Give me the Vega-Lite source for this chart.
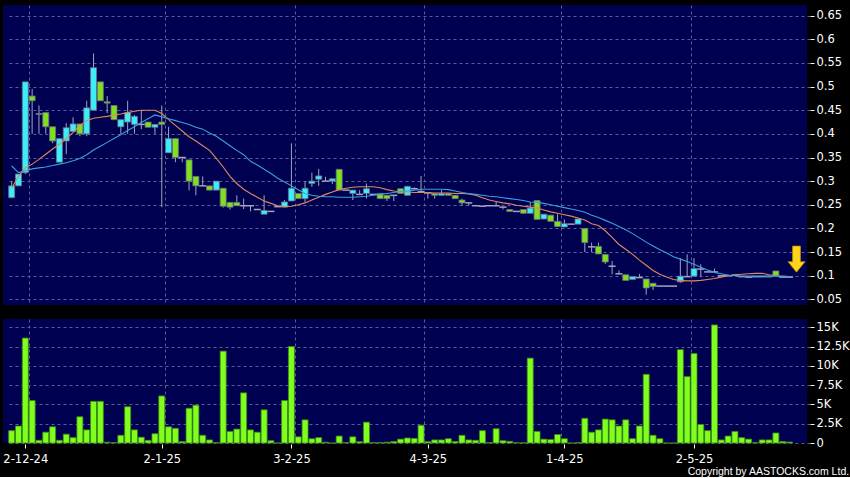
{
  "$schema": "https://vega.github.io/schema/vega-lite/v6.json",
  "background": "#000000",
  "padding": {"left": 2, "top": 5, "right": 0, "bottom": 0},
  "config": {
    "concat": {"spacing": 14},
    "axis": {"labelFont": "DejaVu Sans"},
    "axisY": {"grid": true, "gridColor": "#5C5C98", "gridDash": [3, 3], "domain": false, "tickColor": "#FFFFFF", "tickSize": 4, "offset": 3, "labelColor": "#FFFFFF", "labelFontSize": 11.5, "labelPadding": 2, "title": null}
  },
  "data": {"values": [
    {"i":1,"o":0.265,"h":0.30,"l":0.265,"c":0.29,"v":1600,"m10":0.285,"m20":0.332},
    {"i":2,"o":0.29,"h":0.315,"l":0.29,"c":0.315,"v":2200,"m10":0.31,"m20":0.318},
    {"i":3,"o":0.318,"h":0.51,"l":0.315,"c":0.51,"v":13600,"m10":0.328,"m20":0.322},
    {"i":4,"o":0.48,"h":0.495,"l":0.40,"c":0.47,"v":5500,"m10":0.336,"m20":0.326},
    {"i":5,"o":0.441,"h":0.46,"l":0.40,"c":0.443,"v":350,"m10":0.346,"m20":0.328},
    {"i":6,"o":0.445,"h":0.445,"l":0.40,"c":0.415,"v":1400,"m10":0.357,"m20":0.330},
    {"i":7,"o":0.415,"h":0.415,"l":0.38,"c":0.385,"v":2100,"m10":0.368,"m20":0.333},
    {"i":8,"o":0.34,"h":0.39,"l":0.34,"c":0.39,"v":350,"m10":0.378,"m20":0.336},
    {"i":9,"o":0.385,"h":0.4225,"l":0.357,"c":0.413,"v":1150,"m10":0.39,"m20":0.339},
    {"i":10,"o":0.405,"h":0.435,"l":0.405,"c":0.421,"v":700,"m10":0.403,"m20":0.343},
    {"i":11,"o":0.421,"h":0.421,"l":0.395,"c":0.40,"v":3400,"m10":0.418,"m20":0.348},
    {"i":12,"o":0.40,"h":0.47,"l":0.395,"c":0.455,"v":1700,"m10":0.428,"m20":0.356},
    {"i":13,"o":0.45,"h":0.57,"l":0.45,"c":0.54,"v":5400,"m10":0.433,"m20":0.366},
    {"i":14,"o":0.51,"h":0.51,"l":0.47,"c":0.47,"v":5400,"m10":0.435,"m20":0.374},
    {"i":15,"o":0.468,"h":0.48,"l":0.444,"c":0.465,"v":100,"m10":0.437,"m20":0.382},
    {"i":16,"o":0.46,"h":0.46,"l":0.43,"c":0.43,"v":50,"m10":0.44,"m20":0.390},
    {"i":17,"o":0.415,"h":0.43,"l":0.40,"c":0.43,"v":1000,"m10":0.442,"m20":0.398},
    {"i":18,"o":0.425,"h":0.47,"l":0.40,"c":0.445,"v":4700,"m10":0.445,"m20":0.407},
    {"i":19,"o":0.42,"h":0.44,"l":0.40,"c":0.437,"v":1700,"m10":0.448,"m20":0.415},
    {"i":20,"o":0.42,"h":0.45,"l":0.41,"c":0.42,"v":750,"m10":0.45,"m20":0.424},
    {"i":21,"o":0.425,"h":0.425,"l":0.414,"c":0.414,"v":350,"m10":0.45,"m20":0.432},
    {"i":22,"o":0.414,"h":0.42,"l":0.40,"c":0.42,"v":1200,"m10":0.45,"m20":0.440},
    {"i":23,"o":0.425,"h":0.46,"l":0.245,"c":0.42,"v":6100,"m10":0.443,"m20":0.436},
    {"i":24,"o":0.36,"h":0.415,"l":0.36,"c":0.39,"v":2100,"m10":0.43,"m20":0.432},
    {"i":25,"o":0.39,"h":0.39,"l":0.34,"c":0.35,"v":1900,"m10":0.418,"m20":0.428},
    {"i":26,"o":0.35,"h":0.35,"l":0.34,"c":0.35,"v":200,"m10":0.406,"m20":0.424},
    {"i":27,"o":0.345,"h":0.345,"l":0.28,"c":0.30,"v":4500,"m10":0.394,"m20":0.420},
    {"i":28,"o":0.31,"h":0.31,"l":0.27,"c":0.29,"v":4900,"m10":0.385,"m20":0.414},
    {"i":29,"o":0.29,"h":0.31,"l":0.29,"c":0.29,"v":1000,"m10":0.375,"m20":0.41},
    {"i":30,"o":0.29,"h":0.29,"l":0.281,"c":0.281,"v":400,"m10":0.365,"m20":0.402},
    {"i":31,"o":0.281,"h":0.30,"l":0.281,"c":0.30,"v":50,"m10":0.348,"m20":0.395},
    {"i":32,"o":0.285,"h":0.285,"l":0.244,"c":0.247,"v":11900,"m10":0.33,"m20":0.385},
    {"i":33,"o":0.255,"h":0.255,"l":0.24,"c":0.245,"v":1500,"m10":0.31,"m20":0.375},
    {"i":34,"o":0.255,"h":0.27,"l":0.248,"c":0.248,"v":1800,"m10":0.295,"m20":0.365},
    {"i":35,"o":0.248,"h":0.263,"l":0.241,"c":0.248,"v":6500,"m10":0.283,"m20":0.356},
    {"i":36,"o":0.248,"h":0.248,"l":0.236,"c":0.248,"v":1700,"m10":0.274,"m20":0.342},
    {"i":37,"o":0.24,"h":0.24,"l":0.24,"c":0.24,"v":1400,"m10":0.266,"m20":0.334},
    {"i":38,"o":0.23,"h":0.27,"l":0.23,"c":0.238,"v":4300,"m10":0.258,"m20":0.325},
    {"i":39,"o":0.236,"h":0.236,"l":0.236,"c":0.236,"v":300,"m10":0.253,"m20":0.316},
    {"i":40,"o":0.246,"h":0.246,"l":0.246,"c":0.246,"v":0,"m10":0.248,"m20":0.306},
    {"i":41,"o":0.245,"h":0.26,"l":0.245,"c":0.256,"v":5500,"m10":0.246,"m20":0.298},
    {"i":42,"o":0.258,"h":0.38,"l":0.258,"c":0.285,"v":12500,"m10":0.247,"m20":0.29},
    {"i":43,"o":0.274,"h":0.274,"l":0.263,"c":0.263,"v":800,"m10":0.25,"m20":0.282},
    {"i":44,"o":0.263,"h":0.30,"l":0.255,"c":0.285,"v":3000,"m10":0.254,"m20":0.274},
    {"i":45,"o":0.295,"h":0.318,"l":0.288,"c":0.30,"v":550,"m10":0.26,"m20":0.27},
    {"i":46,"o":0.304,"h":0.326,"l":0.29,"c":0.311,"v":700,"m10":0.266,"m20":0.268},
    {"i":47,"o":0.30,"h":0.309,"l":0.30,"c":0.30,"v":100,"m10":0.272,"m20":0.267},
    {"i":48,"o":0.30,"h":0.305,"l":0.294,"c":0.305,"v":0,"m10":0.277,"m20":0.267},
    {"i":49,"o":0.325,"h":0.325,"l":0.281,"c":0.281,"v":900,"m10":0.282,"m20":0.266},
    {"i":50,"o":0.281,"h":0.281,"l":0.281,"c":0.281,"v":50,"m10":0.285,"m20":0.266},
    {"i":51,"o":0.274,"h":0.281,"l":0.26,"c":0.281,"v":800,"m10":0.287,"m20":0.266},
    {"i":52,"o":0.272,"h":0.281,"l":0.272,"c":0.272,"v":170,"m10":0.288,"m20":0.267},
    {"i":53,"o":0.274,"h":0.295,"l":0.263,"c":0.284,"v":2700,"m10":0.288,"m20":0.268},
    {"i":54,"o":0.272,"h":0.272,"l":0.272,"c":0.272,"v":50,"m10":0.288,"m20":0.27},
    {"i":55,"o":0.274,"h":0.274,"l":0.263,"c":0.263,"v":50,"m10":0.286,"m20":0.272},
    {"i":56,"o":0.27,"h":0.27,"l":0.258,"c":0.263,"v":100,"m10":0.282,"m20":0.274},
    {"i":57,"o":0.27,"h":0.27,"l":0.258,"c":0.27,"v":200,"m10":0.279,"m20":0.276},
    {"i":58,"o":0.284,"h":0.284,"l":0.274,"c":0.274,"v":500,"m10":0.277,"m20":0.278},
    {"i":59,"o":0.27,"h":0.29,"l":0.27,"c":0.289,"v":650,"m10":0.277,"m20":0.279},
    {"i":60,"o":0.284,"h":0.287,"l":0.284,"c":0.284,"v":600,"m10":0.276,"m20":0.281},
    {"i":61,"o":0.278,"h":0.311,"l":0.278,"c":0.278,"v":2300,"m10":0.276,"m20":0.283},
    {"i":62,"o":0.275,"h":0.275,"l":0.263,"c":0.275,"v":170,"m10":0.276,"m20":0.283},
    {"i":63,"o":0.274,"h":0.274,"l":0.263,"c":0.27,"v":400,"m10":0.275,"m20":0.283},
    {"i":64,"o":0.27,"h":0.281,"l":0.27,"c":0.274,"v":400,"m10":0.275,"m20":0.283},
    {"i":65,"o":0.274,"h":0.274,"l":0.27,"c":0.27,"v":560,"m10":0.275,"m20":0.282},
    {"i":66,"o":0.27,"h":0.27,"l":0.263,"c":0.263,"v":200,"m10":0.274,"m20":0.279},
    {"i":67,"o":0.26,"h":0.263,"l":0.248,"c":0.254,"v":1000,"m10":0.274,"m20":0.276},
    {"i":68,"o":0.254,"h":0.254,"l":0.248,"c":0.254,"v":400,"m10":0.273,"m20":0.274},
    {"i":69,"o":0.248,"h":0.248,"l":0.248,"c":0.248,"v":350,"m10":0.27,"m20":0.272},
    {"i":70,"o":0.247,"h":0.247,"l":0.247,"c":0.247,"v":1600,"m10":0.265,"m20":0.27},
    {"i":71,"o":0.248,"h":0.248,"l":0.248,"c":0.248,"v":50,"m10":0.26,"m20":0.268},
    {"i":72,"o":0.248,"h":0.256,"l":0.248,"c":0.248,"v":1850,"m10":0.257,"m20":0.267},
    {"i":73,"o":0.245,"h":0.245,"l":0.24,"c":0.245,"v":300,"m10":0.254,"m20":0.265},
    {"i":74,"o":0.24,"h":0.24,"l":0.236,"c":0.236,"v":220,"m10":0.252,"m20":0.263},
    {"i":75,"o":0.236,"h":0.236,"l":0.236,"c":0.236,"v":30,"m10":0.249,"m20":0.261},
    {"i":76,"o":0.24,"h":0.24,"l":0.231,"c":0.232,"v":30,"m10":0.247,"m20":0.259},
    {"i":77,"o":0.232,"h":0.256,"l":0.231,"c":0.243,"v":11000,"m10":0.245,"m20":0.256},
    {"i":78,"o":0.259,"h":0.259,"l":0.219,"c":0.219,"v":1500,"m10":0.243,"m20":0.255},
    {"i":79,"o":0.22,"h":0.23,"l":0.219,"c":0.23,"v":500,"m10":0.239,"m20":0.253},
    {"i":80,"o":0.228,"h":0.228,"l":0.215,"c":0.215,"v":450,"m10":0.235,"m20":0.25},
    {"i":81,"o":0.215,"h":0.23,"l":0.203,"c":0.204,"v":1100,"m10":0.232,"m20":0.247},
    {"i":82,"o":0.203,"h":0.219,"l":0.203,"c":0.21,"v":560,"m10":0.229,"m20":0.244},
    {"i":83,"o":0.209,"h":0.209,"l":0.209,"c":0.209,"v":0,"m10":0.226,"m20":0.241},
    {"i":84,"o":0.209,"h":0.22,"l":0.209,"c":0.22,"v":50,"m10":0.222,"m20":0.238},
    {"i":85,"o":0.20,"h":0.20,"l":0.15,"c":0.17,"v":3200,"m10":0.218,"m20":0.234},
    {"i":86,"o":0.161,"h":0.17,"l":0.15,"c":0.161,"v":1400,"m10":0.21,"m20":0.228},
    {"i":87,"o":0.162,"h":0.17,"l":0.146,"c":0.146,"v":1700,"m10":0.206,"m20":0.223},
    {"i":88,"o":0.145,"h":0.145,"l":0.125,"c":0.129,"v":3100,"m10":0.195,"m20":0.217},
    {"i":89,"o":0.12,"h":0.131,"l":0.103,"c":0.12,"v":3000,"m10":0.181,"m20":0.211},
    {"i":90,"o":0.104,"h":0.111,"l":0.104,"c":0.104,"v":2200,"m10":0.166,"m20":0.204},
    {"i":91,"o":0.102,"h":0.102,"l":0.09,"c":0.09,"v":3000,"m10":0.156,"m20":0.197},
    {"i":92,"o":0.092,"h":0.098,"l":0.092,"c":0.098,"v":560,"m10":0.145,"m20":0.189},
    {"i":93,"o":0.096,"h":0.104,"l":0.096,"c":0.096,"v":2200,"m10":0.133,"m20":0.18},
    {"i":94,"o":0.093,"h":0.093,"l":0.06,"c":0.074,"v":8900,"m10":0.122,"m20":0.171},
    {"i":95,"o":0.084,"h":0.084,"l":0.07,"c":0.077,"v":1000,"m10":0.111,"m20":0.163},
    {"i":96,"o":0.078,"h":0.078,"l":0.078,"c":0.078,"v":560,"m10":0.103,"m20":0.155},
    {"i":97,"o":0.078,"h":0.078,"l":0.078,"c":0.078,"v":0,"m10":0.097,"m20":0.148},
    {"i":98,"o":0.078,"h":0.078,"l":0.078,"c":0.078,"v":0,"m10":0.092,"m20":0.14},
    {"i":99,"o":0.087,"h":0.137,"l":0.085,"c":0.099,"v":12100,"m10":0.09,"m20":0.135},
    {"i":100,"o":0.098,"h":0.145,"l":0.098,"c":0.098,"v":8600,"m10":0.089,"m20":0.13},
    {"i":101,"o":0.099,"h":0.137,"l":0.099,"c":0.115,"v":11600,"m10":0.089,"m20":0.124},
    {"i":102,"o":0.114,"h":0.124,"l":0.098,"c":0.114,"v":2400,"m10":0.09,"m20":0.118},
    {"i":103,"o":0.108,"h":0.108,"l":0.108,"c":0.108,"v":1600,"m10":0.092,"m20":0.112},
    {"i":104,"o":0.108,"h":0.115,"l":0.108,"c":0.108,"v":15300,"m10":0.094,"m20":0.107},
    {"i":105,"o":0.10,"h":0.10,"l":0.10,"c":0.10,"v":400,"m10":0.097,"m20":0.104},
    {"i":106,"o":0.10,"h":0.103,"l":0.10,"c":0.10,"v":900,"m10":0.10,"m20":0.101},
    {"i":107,"o":0.101,"h":0.101,"l":0.101,"c":0.101,"v":1500,"m10":0.102,"m20":0.10},
    {"i":108,"o":0.098,"h":0.098,"l":0.098,"c":0.098,"v":700,"m10":0.103,"m20":0.099},
    {"i":109,"o":0.097,"h":0.097,"l":0.097,"c":0.097,"v":500,"m10":0.104,"m20":0.099},
    {"i":110,"o":0.098,"h":0.098,"l":0.098,"c":0.098,"v":50,"m10":0.105,"m20":0.099},
    {"i":111,"o":0.098,"h":0.098,"l":0.098,"c":0.098,"v":400,"m10":0.105,"m20":0.099},
    {"i":112,"o":0.097,"h":0.099,"l":0.097,"c":0.099,"v":400,"m10":0.102,"m20":0.099},
    {"i":113,"o":0.11,"h":0.11,"l":0.10,"c":0.10,"v":1300,"m10":0.10,"m20":0.099},
    {"i":114,"o":0.097,"h":0.097,"l":0.097,"c":0.097,"v":200,"m10":0.099,"m20":0.098},
    {"i":115,"o":0.097,"h":0.097,"l":0.097,"c":0.097,"v":130,"m10":0.098,"m20":0.098}
  ]},
  "vconcat": [
    {
      "width": 804,
      "height": 300,
      "view": {"fill": "#000050", "stroke": null},
      "encoding": {
        "x": {"field": "i", "type": "quantitative",
          "scale": {"domain": [0.464, 116.83], "nice": false, "zero": false},
          "axis": {"values": [3.5, 23.5, 42.5, 61.5, 81.5, 100.5], "grid": true, "gridColor": "#5C5C98", "gridDash": [3, 3], "gridWidth": 1,
            "labels": false, "ticks": false, "domain": false, "title": null, "minExtent": 0, "maxExtent": 0}}
      },
      "layer": [
        {
          "mark": {"type": "rule", "color": "#A4A4BC", "strokeWidth": 1},
          "encoding": {
            "y": {"field": "l", "type": "quantitative",
              "scale": {"domain": [0.038, 0.6726], "nice": false, "zero": false},
              "axis": {"orient": "right", "values": [0.05, 0.1, 0.15, 0.2, 0.25, 0.3, 0.35, 0.4, 0.45, 0.5, 0.55, 0.6, 0.65], "format": ".2~f", "title": null}},
            "y2": {"field": "h"}
          }
        },
        {
          "transform": [{"filter": "datum.o != datum.c"}],
          "mark": {"type": "bar", "width": 6, "stroke": "#6C6C88", "strokeWidth": 0.8},
          "encoding": {
            "y": {"field": "o", "type": "quantitative",
              "axis": {"orient": "right", "values": [0.05, 0.1, 0.15, 0.2, 0.25, 0.3, 0.35, 0.4, 0.45, 0.5, 0.55, 0.6, 0.65], "format": ".2~f", "title": null}},
            "y2": {"field": "c"},
            "fill": {"condition": {"test": "datum.c > datum.o", "value": "#3CEEF8"}, "value": "#7EE01E"}
          }
        },
        {
          "transform": [{"filter": "datum.o == datum.c"}],
          "mark": {"type": "tick", "orient": "horizontal", "size": 7, "thickness": 1.5, "color": "#A4A4BC", "opacity": 1},
          "encoding": {"y": {"field": "c", "type": "quantitative",
            "axis": {"orient": "right", "values": [0.05, 0.1, 0.15, 0.2, 0.25, 0.3, 0.35, 0.4, 0.45, 0.5, 0.55, 0.6, 0.65], "format": ".2~f", "title": null}}}
        },
        {
          "mark": {"type": "line", "color": "#E0885C", "strokeWidth": 1.1},
          "encoding": {"y": {"field": "m10", "type": "quantitative",
            "axis": {"orient": "right", "values": [0.05, 0.1, 0.15, 0.2, 0.25, 0.3, 0.35, 0.4, 0.45, 0.5, 0.55, 0.6, 0.65], "format": ".2~f", "title": null}}}
        },
        {
          "mark": {"type": "line", "color": "#3A9FE0", "strokeWidth": 1.1},
          "encoding": {"y": {"field": "m20", "type": "quantitative",
            "axis": {"orient": "right", "values": [0.05, 0.1, 0.15, 0.2, 0.25, 0.3, 0.35, 0.4, 0.45, 0.5, 0.55, 0.6, 0.65], "format": ".2~f", "title": null}}}
        },
        {
          "transform": [{"filter": "datum.i == 115"}],
          "mark": {"type": "point", "shape": "M-0.3,-1L0.3,-1L0.3,0.2L0.65,0.2L0,1L-0.65,0.2L-0.3,0.2Z", "size": 680,
            "filled": true, "fill": "#FFD419", "stroke": "#B88F00", "strokeWidth": 0.8, "opacity": 1, "xOffset": 7, "yOffset": -18},
          "encoding": {
            "y": {"field": "c", "type": "quantitative",
              "axis": {"orient": "right", "values": [0.05, 0.1, 0.15, 0.2, 0.25, 0.3, 0.35, 0.4, 0.45, 0.5, 0.55, 0.6, 0.65], "format": ".2~f", "title": null}}
          }
        }
      ]
    },
    {
      "width": 804,
      "height": 124,
      "view": {"fill": "#000050", "stroke": null},
      "title": {"text": "Copyright by AASTOCKS.com Ltd.", "orient": "bottom", "anchor": "end", "frame": "bounds",
        "color": "#FFFFFF", "font": "Liberation Sans", "fontSize": 10.5, "fontWeight": "normal", "offset": 2},
      "resolve": {"axis": {"x": "independent"}},
      "layer": [
        {
          "mark": {"type": "bar", "width": 6, "fill": "#80FF1E", "stroke": "#3E8A10", "strokeWidth": 0.8},
          "encoding": {
            "x": {"field": "i", "type": "quantitative",
              "scale": {"domain": [0.464, 116.83], "nice": false, "zero": false},
              "axis": {"orient": "bottom", "values": [3, 23, 42, 62, 82, 101],
                "labelExpr": "datum.value == 3 ? '2-12-24' : datum.value == 23 ? '2-1-25' : datum.value == 42 ? '3-2-25' : datum.value == 62 ? '4-3-25' : datum.value == 82 ? '1-4-25' : '2-5-25'",
                "grid": false, "domain": false, "ticks": true, "tickColor": "#FFFFFF", "tickSize": 4, "offset": 1,
                "labelColor": "#FFFFFF", "labelFontSize": 11.5, "labelPadding": 5, "labelOverlap": false, "title": null}},
            "y": {"field": "v", "type": "quantitative",
              "scale": {"domain": [0, 16070], "nice": false, "zero": true},
              "axis": {"orient": "right", "values": [0, 2500, 5000, 7500, 10000, 12500, 15000],
                "labelExpr": "datum.value == 0 ? '0' : format(datum.value / 1000, '~g') + 'K'", "title": null}}
          }
        },
        {
          "mark": {"type": "bar", "width": 6, "opacity": 0},
          "encoding": {
            "x": {"field": "i", "type": "quantitative",
              "axis": {"orient": "bottom", "values": [3.5, 23.5, 42.5, 61.5, 81.5, 100.5], "grid": true, "gridColor": "#5C5C98",
                "gridDash": [3, 3], "labels": false, "ticks": false, "domain": false, "title": null, "minExtent": 0, "maxExtent": 0}},
            "y": {"field": "v", "type": "quantitative",
              "axis": {"orient": "right", "values": [0, 2500, 5000, 7500, 10000, 12500, 15000],
                "labelExpr": "datum.value == 0 ? '0' : format(datum.value / 1000, '~g') + 'K'", "title": null}}
          }
        }
      ]
    }
  ]
}
